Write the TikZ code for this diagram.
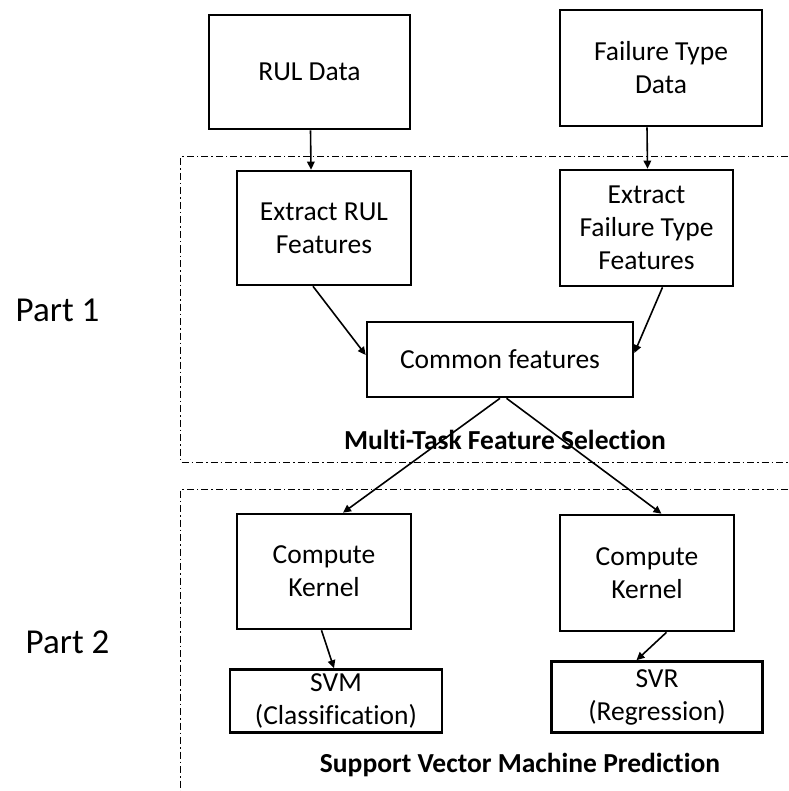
\documentclass[tikz,border=0pt]{standalone}
\usepackage{fontspec}
\setmainfont[Ligatures={NoCommon}]{Carlito}
\usetikzlibrary{arrows.meta}
\begin{document}
\begin{tikzpicture}[x=1pt,y=-1pt,
  box/.style={draw=black,line width=2.6pt,align=center,inner sep=0pt,
    font=\fontsize{27.5}{33}\selectfont},
  conn/.style={draw=black,line width=1.6pt,-{Triangle[length=8pt,width=7.5pt]}},
  frame/.style={draw=black,line width=1pt,dash pattern=on 7pt off 3pt on 1.5pt off 3pt},
  steplabel/.style={font=\fontsize{27.5}{33}\selectfont\bfseries},
  partlabel/.style={font=\fontsize{35}{40}\selectfont}]
\useasboundingbox (0,0) rectangle (788,791);
% frames
\draw[frame] (788,157) -- (180.5,157) -- (180.5,462) -- (788,462);
\draw[frame] (788,489) -- (180.5,489) -- (180.5,791);
% nodes
\node[box,minimum width=201pt,minimum height=114pt] (rul) at (309.5,72) {RUL Data};
\node[box,minimum width=202pt,minimum height=116pt] (ftd) at (661,68) {Failure Type\\Data};
\node[box,minimum width=174pt,minimum height=114pt] (erul) at (324,228) {Extract RUL\\Features};
\node[box,minimum width=173pt,minimum height=116pt] (eft) at (646.5,228) {Extract\\Failure Type\\Features};
\node[box,minimum width=266pt,minimum height=75pt] (cf) at (500,359.5) {Common features};
\node[box,minimum width=174pt,minimum height=115pt] (ck1) at (324,571.5) {Compute\\Kernel};
\node[box,minimum width=174pt,minimum height=116pt] (ck2) at (647,573) {Compute\\Kernel};
\node[box,minimum width=212pt,minimum height=63pt] (svm) at (336,701) {SVM\\(Classification)};
\node[box,minimum width=211pt,minimum height=71pt] (svr) at (657,697) {SVR\\(Regression)};
% labels
\node[steplabel] (mtfs) at (505,440) {Multi-Task Feature Selection};
\node[steplabel] (svmp) at (520,765) {Support Vector Machine Prediction};
\node[partlabel] (p1) at (57.5,310) {Part 1};
\node[partlabel] (p2) at (67.5,642) {Part 2};
% connectors
\draw[conn] ([xshift=1pt]rul.south) -- ([xshift=-13pt]erul.north);
\draw[conn] ([xshift=-14pt]ftd.south) -- ([xshift=1pt]eft.north);
\draw[conn] ([xshift=-11pt]erul.south) -- ([yshift=4.5pt]cf.west);
\draw[conn] ([xshift=16pt]eft.south) -- ([yshift=6.5pt]cf.east);
\draw[conn] (cf.south) -- ([xshift=19pt]ck1.north);
\draw[conn] ([xshift=6.5pt]cf.south) -- ([xshift=14.5pt]ck2.north);
\draw[conn] ([xshift=-2.5pt]ck1.south) -- ([xshift=-2pt]svm.north);
\draw[conn] ([xshift=19.5pt]ck2.south) -- ([xshift=-20.5pt]svr.north);
\end{tikzpicture}
\end{document}
